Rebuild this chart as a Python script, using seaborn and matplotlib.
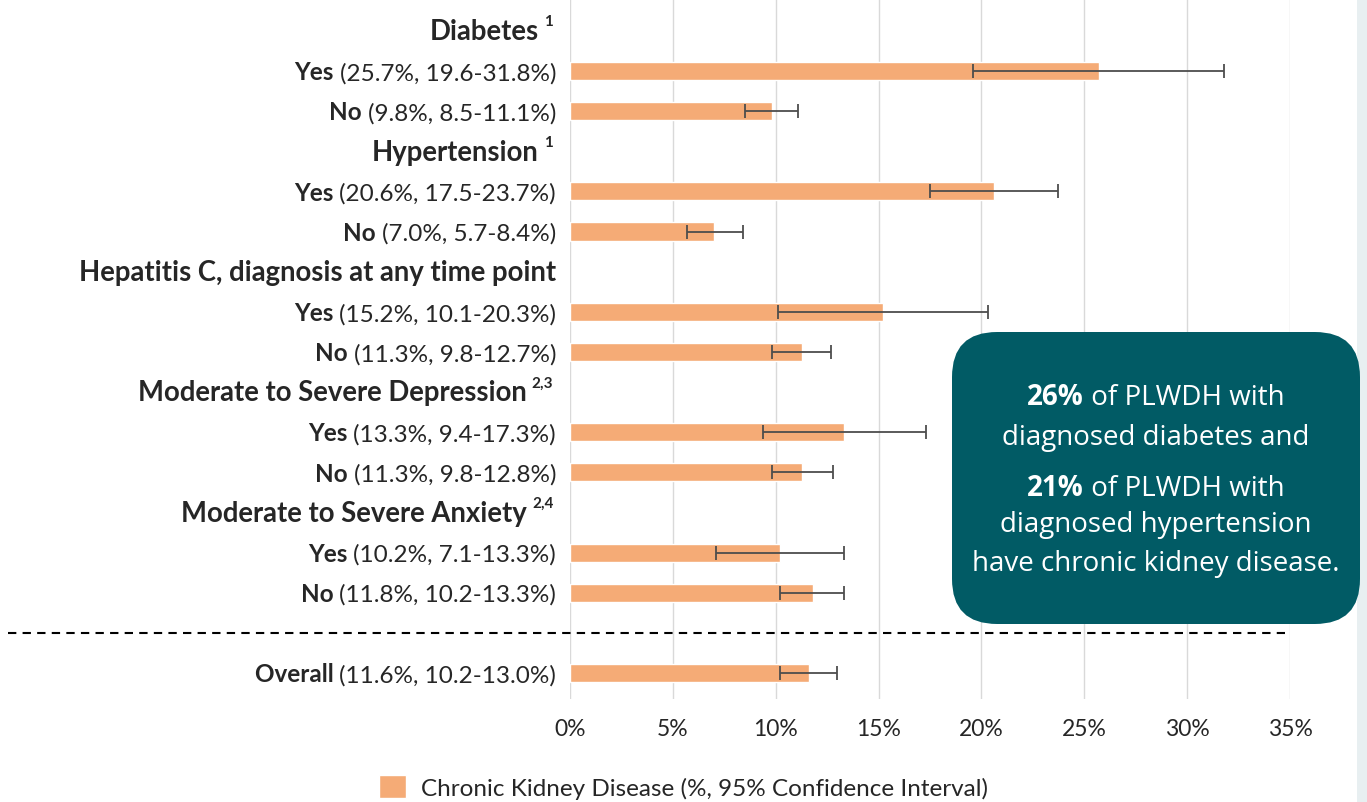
import numpy as np
import pandas as pd
import seaborn as sns
import matplotlib.pyplot as plt
from matplotlib.patches import FancyBboxPatch, Patch, Rectangle

groups = ['Diabetes', 'Hypertension', 'Hepatitis C, diagnosis at any time point',
          'Moderate to Severe Depression', 'Moderate to Severe Anxiety']
footnotes = ['1', '1', '', '2,3', '2,4']
yes_pct = [25.7, 20.6, 15.2, 13.3, 10.2]
yes_lo = [19.6, 17.5, 10.1, 9.4, 7.1]
yes_hi = [31.8, 23.7, 20.3, 17.3, 13.3]
no_pct = [9.8, 7.0, 11.3, 11.3, 11.8]
no_lo = [8.5, 5.7, 9.8, 9.8, 10.2]
no_hi = [11.1, 8.4, 12.7, 12.8, 13.3]
overall = [11.6, 10.2, 13.0]
x_ticks = [0, 5, 10, 15, 20, 25, 30, 35]
legend_label = 'Chronic Kidney Disease (%, 95% Confidence Interval)'

bar_color = '#F5AB76'
box_color = '#015B65'
label_font = ['Lato', 'DejaVu Sans']
box_font = ['Open Sans', 'DejaVu Sans']

# build one row per line of the chart (headers and separator have no value)
rows = []
for g, fn, yp, yl, yh, npct, nl, nh in zip(groups, footnotes, yes_pct, yes_lo, yes_hi,
                                           no_pct, no_lo, no_hi):
    rows.append(dict(row=g, kind='header', bold=g, text='', sup=fn, pct=np.nan, lo=np.nan, hi=np.nan))
    rows.append(dict(row=g + '|yes', kind='item', bold='Yes', text=f'({yp}%, {yl}-{yh}%)', sup='',
                     pct=yp, lo=yl, hi=yh))
    rows.append(dict(row=g + '|no', kind='item', bold='No', text=f'({npct}%, {nl}-{nh}%)', sup='',
                     pct=npct, lo=nl, hi=nh))
rows.append(dict(row='sep', kind='sep', bold='', text='', sup='', pct=np.nan, lo=np.nan, hi=np.nan))
rows.append(dict(row='Overall', kind='item', bold='Overall',
                 text=f'({overall[0]}%, {overall[1]}-{overall[2]:.1f}%)', sup='',
                 pct=overall[0], lo=overall[1], hi=overall[2]))
df = pd.DataFrame(rows)
order = list(df['row'])

sns.set_style('white')
plt.rcParams['font.family'] = label_font

fig = plt.figure(figsize=(13.67, 8.03), dpi=100)
# light page edge on the right
fig.add_artist(Rectangle((1357 / 1367, 0), 10 / 1367, 1, transform=fig.transFigure,
                         facecolor='#E8EFF1', edgecolor='none', zorder=0))
ax = fig.add_axes([570 / 1367, 1 - 700 / 803, 720 / 1367, 700 / 803])
ax.patch.set_alpha(0)

sns.barplot(data=df, x='pct', y='row', order=order, orient='h', color=bar_color,
            width=0.45, errorbar=None, saturation=1, ax=ax)

vals = df.dropna(subset=['pct'])
pos = [order.index(r) for r in vals['row']]
ax.errorbar(vals['pct'], pos, xerr=[vals['pct'] - vals['lo'], vals['hi'] - vals['pct']],
            fmt='none', ecolor='#4D4D4D', elinewidth=1.3, capsize=5, capthick=1.3, zorder=3)

ax.set_xlim(0, 35)
ax.set_ylim(16.65, -0.794)
ax.set_xticks(x_ticks)
ax.set_xticklabels([f'{t}%' for t in x_ticks], fontsize=16.5)
ax.tick_params(axis='x', length=0, pad=14)
ax.set_yticks([])
ax.set_xlabel('')
ax.set_ylabel('')
ax.grid(axis='x', color='#D9D9D9', linewidth=1)
ax.set_axisbelow(True)
sns.despine(ax=ax, left=True, bottom=True)

# row labels: bold part + regular part, right aligned next to the axis
renderer = fig.canvas.get_renderer()
trans = ax.get_yaxis_transform()
for i, r in df.iterrows():
    y = order.index(r['row'])
    if r['kind'] == 'item':
        t = ax.annotate(r['text'], xy=(0, y), xycoords=trans, xytext=(-10, -6),
                        textcoords='offset points', ha='right', va='baseline', fontsize=17.5)
        w = t.get_window_extent(renderer).width * 72 / fig.dpi
        ax.annotate(r['bold'] + ' ', xy=(0, y), xycoords=trans, xytext=(-10 - w, -6),
                    textcoords='offset points', ha='right', va='baseline', fontsize=17.5,
                    fontweight='bold')
    elif r['kind'] == 'header':
        off = -10
        if r['sup']:
            s = ax.annotate(r['sup'], xy=(0, y), xycoords=trans, xytext=(-12, 4),
                            textcoords='offset points', ha='right', va='baseline',
                            fontsize=11, fontweight='bold')
            off = -12 - s.get_window_extent(renderer).width * 72 / fig.dpi - 4
        ax.annotate(r['bold'], xy=(0, y), xycoords=trans, xytext=(off, -6),
                    textcoords='offset points', ha='right', va='baseline', fontsize=19.8,
                    fontweight='bold')

# dashed separator above "Overall"
sep_y = order.index('sep')
ax.plot([-0.78, 0.993], [sep_y, sep_y], transform=trans, clip_on=False, color='black',
        linewidth=1.5, linestyle=(0, (4, 3)))

# callout box
box = FancyBboxPatch((952 / 1367, 1 - 625 / 803), 408 / 1367, 292 / 803,
                     boxstyle='round,pad=0,rounding_size=0.033', mutation_aspect=1367 / 803,
                     transform=fig.transFigure, facecolor=box_color, edgecolor='none', zorder=5)
fig.add_artist(box)

box_lines = [('26%', ' of PLWDH with', 396), ('', 'diagnosed diabetes and', 436),
             ('21%', ' of PLWDH with', 487), ('', 'diagnosed hypertension', 523),
             ('', 'have chronic kidney disease.', 562)]
cx = 1156
for b, n, yp in box_lines:
    yf = 1 - (yp + 9) / 803
    if b:
        tb = fig.text(0, yf, b, fontsize=20, fontweight='bold', family=box_font, color='white',
                      va='baseline', ha='left', zorder=6)
        tn = fig.text(0, yf, n, fontsize=20, family=box_font, color='white',
                      va='baseline', ha='left', zorder=6)
        wb = tb.get_window_extent(renderer).width
        wn = tn.get_window_extent(renderer).width
        x0 = cx - (wb + wn) / 2
        tb.set_x(x0 / 1367)
        tn.set_x((x0 + wb) / 1367)
    else:
        fig.text(cx / 1367, yf, n, fontsize=20, family=box_font, color='white',
                 va='baseline', ha='center', zorder=6)

fig.legend(handles=[Patch(facecolor=bar_color, label=legend_label)], loc='center',
           bbox_to_anchor=(0.5, 1 - 788 / 803), frameon=False, fontsize=17.5,
           handlelength=1.1, handleheight=1.1, handletextpad=0.6)

fig.savefig('out.png', dpi=100)
